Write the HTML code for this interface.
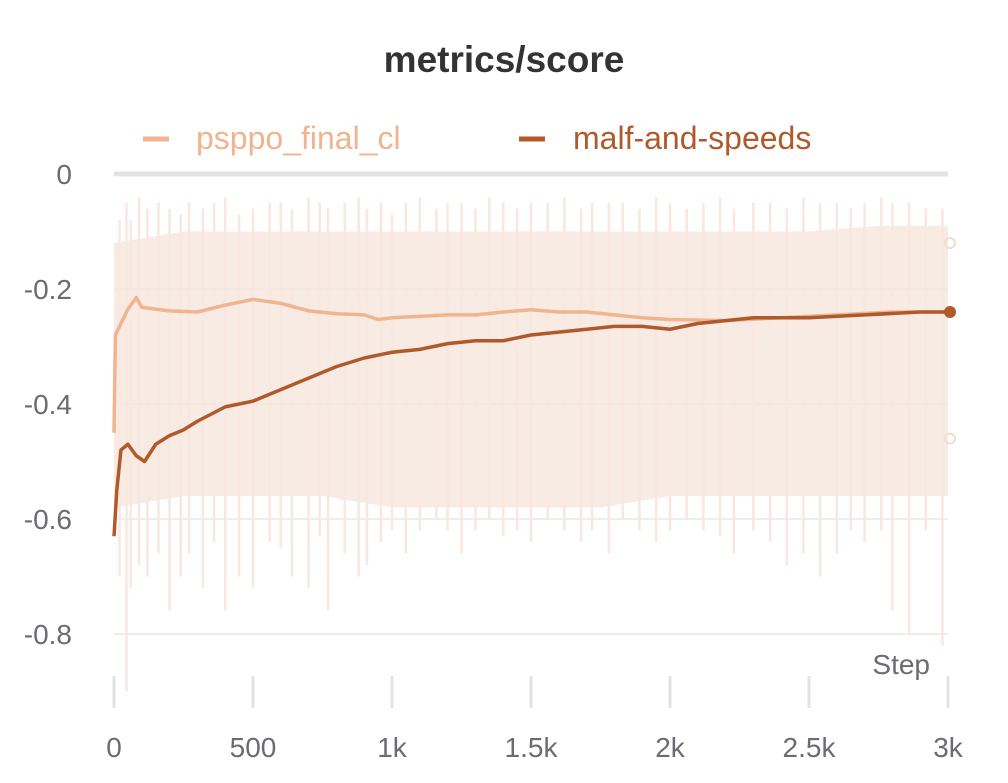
<!DOCTYPE html>
<html><head><meta charset="utf-8">
<style>
html,body{margin:0;padding:0;background:#fff;}
svg{display:block;font-family:"Liberation Sans",sans-serif;}
</style></head>
<body>
<svg id="chart" width="1008" height="783" viewBox="0 0 1008 783">
<text x="504" y="72" text-anchor="middle" font-size="37" font-weight="bold" fill="#333">metrics/score</text>
<g>
<g>
<line x1="143" y1="139" x2="169" y2="139" stroke="#f0b48f" stroke-width="5"/>
<text x="196" y="149" font-size="32" fill="#f0b48f">psppo_final_cl</text></g>
<g>
<line x1="519" y1="139" x2="545" y2="139" stroke="#b05a2c" stroke-width="5"/>
<text x="573" y="149" font-size="32" fill="#b05a2c">malf-and-speeds</text></g>
</g>
<g id="grid"></g>
<g id="noise"></g>
<g id="lines"></g>
<g id="axes"></g>
<text x="930" y="674" text-anchor="end" font-size="28" fill="#6b6b76">Step</text>
</svg>
<script>
const yTicks=[0,-0.2,-0.4,-0.6,-0.8];
const yTickLabels=["0","-0.2","-0.4","-0.6","-0.8"];
const xTicks=[0,500,1000,1500,2000,2500,3000];
const xTickLabels=["0","500","1k","1.5k","2k","2.5k","3k"];
const psppoSteps=[0,5,20,50,80,100,150,200,300,400,500,600,700,800,900,950,1000,1200,1300,1400,1500,1600,1700,1800,1900,2000,2200,2400,2600,2800,3000];
const psppoValues=[-0.45,-0.28,-0.265,-0.235,-0.215,-0.232,-0.235,-0.238,-0.24,-0.228,-0.218,-0.225,-0.238,-0.243,-0.245,-0.253,-0.25,-0.245,-0.245,-0.24,-0.236,-0.24,-0.24,-0.245,-0.25,-0.253,-0.255,-0.25,-0.245,-0.24,-0.24];
const malfSteps=[0,10,25,50,80,110,150,200,250,300,400,500,600,700,800,900,1000,1100,1200,1300,1400,1500,1600,1700,1800,1900,2000,2100,2300,2500,2700,2900,3000];
const malfValues=[-0.63,-0.55,-0.48,-0.47,-0.49,-0.5,-0.47,-0.455,-0.445,-0.43,-0.405,-0.395,-0.375,-0.355,-0.335,-0.32,-0.31,-0.305,-0.295,-0.29,-0.29,-0.28,-0.275,-0.27,-0.265,-0.265,-0.27,-0.26,-0.25,-0.25,-0.245,-0.24,-0.24];
const bandSteps=[0,250,500,750,1000,1250,1500,1750,2000,2250,2500,2750,3000];
const bandHigh=[-0.12,-0.1,-0.1,-0.1,-0.1,-0.1,-0.1,-0.1,-0.1,-0.1,-0.1,-0.09,-0.09];
const bandLow=[-0.58,-0.56,-0.56,-0.56,-0.58,-0.58,-0.58,-0.58,-0.56,-0.56,-0.56,-0.56,-0.56];
const spikeSteps=[20,45,60,90,120,160,200,240,270,320,360,400,450,500,560,600,640,700,740,770,830,880,910,960,1000,1050,1100,1160,1200,1250,1300,1350,1400,1450,1500,1560,1620,1680,1720,1780,1830,1890,1950,2000,2060,2120,2180,2230,2300,2360,2420,2480,2540,2600,2650,2700,2760,2800,2860,2920,2980];
const spikeHigh=[-0.08,-0.05,-0.08,-0.04,-0.06,-0.05,-0.06,-0.07,-0.05,-0.06,-0.05,-0.04,-0.07,-0.06,-0.05,-0.05,-0.06,-0.04,-0.05,-0.06,-0.05,-0.04,-0.06,-0.05,-0.07,-0.05,-0.04,-0.06,-0.05,-0.05,-0.06,-0.04,-0.05,-0.06,-0.05,-0.05,-0.04,-0.06,-0.05,-0.05,-0.05,-0.06,-0.04,-0.05,-0.06,-0.05,-0.04,-0.06,-0.05,-0.05,-0.06,-0.04,-0.05,-0.05,-0.06,-0.05,-0.04,-0.05,-0.05,-0.06,-0.06];
const spikeLow=[-0.7,-0.9,-0.72,-0.68,-0.7,-0.66,-0.76,-0.7,-0.66,-0.72,-0.64,-0.76,-0.7,-0.72,-0.64,-0.65,-0.7,-0.72,-0.63,-0.76,-0.66,-0.7,-0.68,-0.64,-0.62,-0.66,-0.62,-0.6,-0.62,-0.66,-0.62,-0.6,-0.63,-0.62,-0.64,-0.6,-0.62,-0.64,-0.62,-0.66,-0.6,-0.62,-0.64,-0.62,-0.6,-0.62,-0.63,-0.66,-0.62,-0.64,-0.68,-0.66,-0.7,-0.66,-0.62,-0.64,-0.62,-0.76,-0.8,-0.62,-0.82];
const endHigh=-0.12, endLow=-0.46, endValue=-0.24;

const X=s=>114+s*(834/3000);
const Y=v=>174-v*575;
const NS="http://www.w3.org/2000/svg";
function mk(tag,parent,attrs){const e=document.createElementNS(NS,tag);for(const k in attrs)e.setAttribute(k,attrs[k]);parent.appendChild(e);return e;}
const grid=document.getElementById('grid'),noise=document.getElementById('noise'),lines=document.getElementById('lines'),axes=document.getElementById('axes');
yTicks.forEach((v,i)=>{
  const l=mk('line',grid,{x1:114,x2:948,y1:Y(v),y2:Y(v),stroke:v===0?'#e3e3e3':'#e8e8e8','stroke-width':v===0?5:1.5});
  
  
  const t=mk('text',axes,{x:72,y:Y(v)+10,'text-anchor':'end','font-size':28,fill:'#6b6b76'});
  t.textContent=yTickLabels[i];
  
  
});
xTicks.forEach((s,i)=>{
  const l=mk('line',axes,{x1:X(s),x2:X(s),y1:676,y2:708,stroke:'#e3e3e3','stroke-width':3});
  
  
  const t=mk('text',axes,{x:X(s),y:757,'text-anchor':'middle','font-size':28,fill:'#6b6b76'});
  t.textContent=xTickLabels[i];
  
  
});
let pts=bandSteps.map((s,i)=>X(s)+','+Y(bandHigh[i]));
pts=pts.concat(bandSteps.map((s,i)=>X(s)+','+Y(bandLow[i])).reverse());
const band=mk('polygon',noise,{points:pts.join(' '),fill:'#f6e6dc',opacity:0.8});


spikeSteps.forEach((s,i)=>{
  const l=mk('line',noise,{x1:X(s),x2:X(s),y1:Y(spikeHigh[i]),y2:Y(spikeLow[i]),stroke:'#f8e8df','stroke-width':2.5});
  
  
});
function path(steps,vals,color,name){
  const d=steps.map((s,i)=>(i?'L':'M')+X(s)+','+Y(vals[i])).join(' ');
  const p=mk('path',lines,{d:d,fill:'none',stroke:color,'stroke-width':3.5,'stroke-linejoin':'round'});
  
  
}
path(psppoSteps,psppoValues,'#f0b48f','line-psppo-final-cl');
path(malfSteps,malfValues,'#b05a2c','line-malf-and-speeds');
const c1=mk('circle',lines,{cx:950,cy:Y(endHigh),r:5,fill:'none',stroke:'#f3dcd0','stroke-width':2});


const c2=mk('circle',lines,{cx:950,cy:Y(endLow),r:5,fill:'none',stroke:'#f3dcd0','stroke-width':2});


const c3=mk('circle',lines,{cx:950,cy:Y(endValue),r:6,fill:'#b05a2c'});


</script>
</body></html>
